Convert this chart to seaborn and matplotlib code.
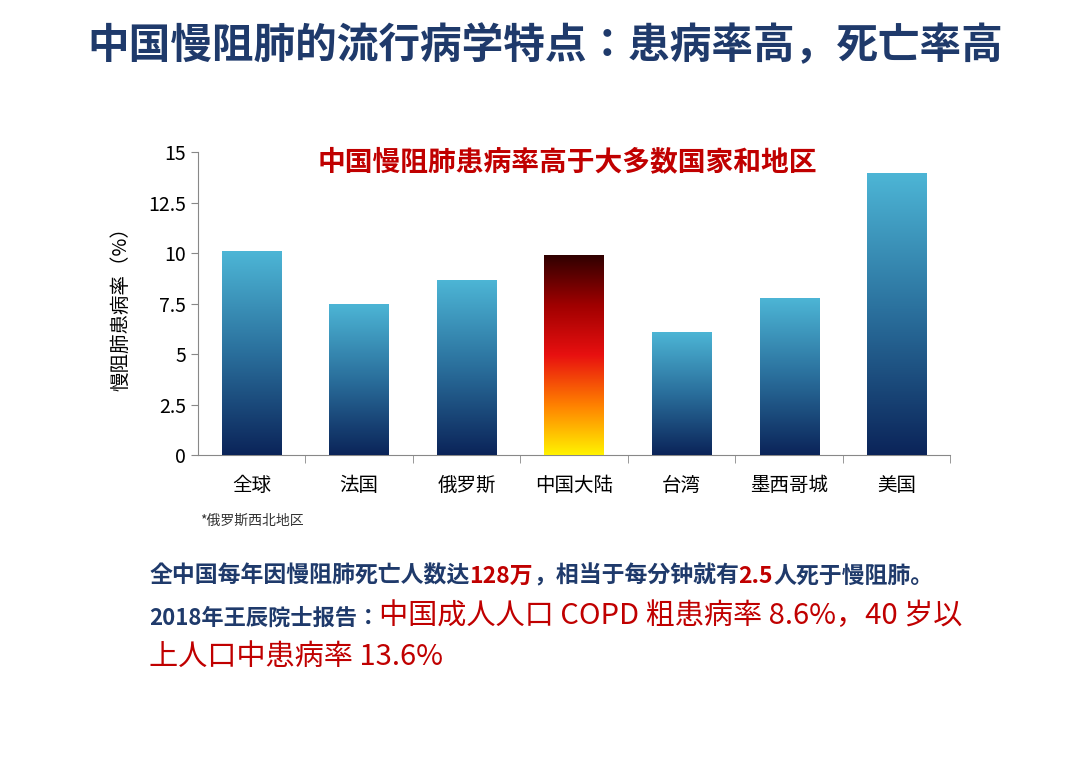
import numpy as np
import pandas as pd
import matplotlib.pyplot as plt
import seaborn as sns
from matplotlib import font_manager
from matplotlib.colors import LinearSegmentedColormap
from matplotlib.offsetbox import TextArea, HPacker, AnchoredOffsetbox

# pick an installed CJK sans family
cjk = sorted(set(f.name for f in font_manager.fontManager.ttflist if 'CJK' in f.name))
sans = [n for n in cjk if 'Sans' in n and 'SC' in n] or [n for n in cjk if 'Sans' in n] or ['DejaVu Sans']
SANS = sans[0]
plt.rcParams['font.family'] = [SANS, 'DejaVu Sans']

regions = ['全球', '法国', '俄罗斯', '中国大陆', '台湾', '墨西哥城', '美国']
prevalence = [10.1, 7.5, 8.7, 9.9, 6.1, 7.8, 14.0]
yticks = [0, 2.5, 5, 7.5, 10, 12.5, 15]
ytick_labels = ['0', '2.5', '5', '7.5', '10', '12.5', '15']

df = pd.DataFrame({'region': regions, 'value': prevalence})

blue_cmap = LinearSegmentedColormap.from_list('b', ['#0b2459', '#2a6f9c', '#4db6d6'])
china_cmap = LinearSegmentedColormap.from_list('c', ['#fff200', '#ff8000', '#e81010', '#a00000', '#300000'])

fig = plt.figure(figsize=(10.8, 7.7), dpi=100)
ax = fig.add_axes([0.183, 0.409, 0.697, 0.393])
sns.barplot(data=df, x='region', y='value', ax=ax, width=0.55, color='#3a8fb8')

grad = np.linspace(0, 1, 256).reshape(-1, 1)
for patch, reg in zip(ax.patches, regions):
    x0, y0 = patch.get_x(), patch.get_y()
    w, h = patch.get_width(), patch.get_height()
    cmap = china_cmap if reg == '中国大陆' else blue_cmap
    im = ax.imshow(grad, cmap=cmap, origin='lower', aspect='auto',
                   extent=[x0, x0 + w, y0, y0 + h], zorder=3)
    im.set_clip_path(patch)
    patch.set_facecolor('none')

ax.set_xlim(-0.5, len(regions) - 0.5)
ax.set_ylim(0, 15)
ax.set_yticks(yticks)
ax.set_yticklabels(ytick_labels, fontsize=14)
ax.tick_params(axis='x', labelsize=14, length=0, pad=14)
ax.tick_params(axis='y', direction='out', length=5, color='#888888')
ax.set_xticks(np.arange(len(regions)) + 0.5, minor=True)
ax.tick_params(axis='x', which='minor', length=6, color='#888888')
ax.set_xlabel('')
ax.set_ylabel('慢阻肺患病率（%）', fontsize=14, labelpad=12)
for s in ['top', 'right']:
    ax.spines[s].set_visible(False)
for s in ['left', 'bottom']:
    ax.spines[s].set_color('#888888')

fig.text(0.505, 0.94, '中国慢阻肺的流行病学特点：患病率高，死亡率高',
         ha='center', va='center', fontsize=30, fontweight='bold', color='#1f3a6b')
fig.text(0.525, 0.79, '中国慢阻肺患病率高于大多数国家和地区',
         ha='center', va='center', fontsize=20, fontweight='bold', color='#c00000')
fig.text(0.185, 0.318, '*俄罗斯西北地区', fontsize=10, color='#333333')

navy = '#1f3a6b'
red = '#c00000'


def line(parts, y):
    boxes = [TextArea(t, textprops=dict(fontsize=fs, fontweight=fw, color=c))
             for t, fs, fw, c in parts]
    pack = HPacker(children=boxes, pad=0, sep=0, align='baseline')
    ab = AnchoredOffsetbox(loc='lower left', child=pack, pad=0, frameon=False,
                           bbox_to_anchor=(0.138, y), bbox_transform=fig.transFigure,
                           borderpad=0)
    fig.add_artist(ab)


line([('全中国每年因慢阻肺死亡人数达', 16.5, 'bold', navy), ('128万', 16.5, 'bold', red),
      ('，相当于每分钟就有', 16.5, 'bold', navy), ('2.5', 16.5, 'bold', red),
      ('人死于慢阻肺。', 16.5, 'bold', navy)], 0.237)
line([('2018年王辰院士报告：', 16, 'bold', navy),
      ('中国成人人口 COPD 粗患病率 8.6%，40 岁以', 21, 'normal', red)], 0.18)
line([('上人口中患病率 13.6%', 21, 'normal', red)], 0.128)

fig.savefig('out.png', dpi=100)
